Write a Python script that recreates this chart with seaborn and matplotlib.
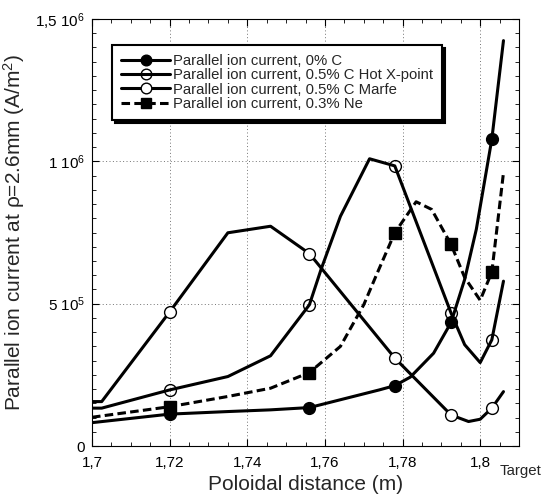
import numpy as np
import pandas as pd
import matplotlib
matplotlib.use("Agg")
import matplotlib.pyplot as plt
from matplotlib.ticker import MultipleLocator
import seaborn as sns

# ---------------- data ----------------
x_c0 = [1.700, 1.720, 1.735, 1.746, 1.756, 1.774, 1.778, 1.782, 1.788, 1.7925, 1.796, 1.799, 1.803, 1.806]
y_c0 = [82e3, 112e3, 121e3, 127e3, 135e3, 197e3, 212e3, 242e3, 326e3, 434e3, 585e3, 761e3, 1078e3, 1424e3]
mk_c0 = [1, 4, 6, 9, 12]

x_hot = [1.700, 1.7025, 1.720, 1.735, 1.746, 1.756, 1.759, 1.764, 1.7715, 1.778, 1.7925, 1.796, 1.800, 1.803, 1.806]
y_hot = [133e3, 133e3, 197e3, 244e3, 317e3, 496e3, 620e3, 807e3, 1009e3, 984e3, 467e3, 356e3, 293e3, 373e3, 579e3]
mk_hot = [2, 5, 9, 10, 13]

x_marfe = [1.700, 1.7025, 1.720, 1.735, 1.746, 1.756, 1.778, 1.7925, 1.797, 1.800, 1.803, 1.806]
y_marfe = [156e3, 156e3, 471e3, 749e3, 772e3, 676e3, 309e3, 109e3, 86e3, 94e3, 133e3, 191e3]
mk_marfe = [2, 5, 6, 7, 10]

x_ne = [1.700, 1.720, 1.735, 1.746, 1.756, 1.764, 1.770, 1.7735, 1.778, 1.7835, 1.7875, 1.7925, 1.796, 1.800, 1.803, 1.806]
y_ne = [101e3, 138e3, 174e3, 203e3, 258e3, 350e3, 496e3, 608e3, 749e3, 858e3, 831e3, 708e3, 592e3, 512e3, 611e3, 960e3]
mk_ne = [1, 4, 8, 11, 14]

labels = ["Parallel ion current, 0% C",
          "Parallel ion current, 0.5% C Hot X-point",
          "Parallel ion current, 0.5% C Marfe",
          "Parallel ion current, 0.3% Ne"]

xticks = [1.70, 1.72, 1.74, 1.76, 1.78, 1.80]
xtick_labels = ["1,7", "1,72", "1,74", "1,76", "1,78", "1,8"]
yticks = [0, 5e5, 1e6, 1.5e6]
ytick_labels = ["0", "5 10$^5$", "1 10$^6$", "1,5 10$^6$"]

# ---------------- style ----------------
sns.set_style("ticks")
plt.rcParams["font.family"] = ["Liberation Sans", "DejaVu Sans"]
plt.rcParams["mathtext.fontset"] = "custom"
plt.rcParams["mathtext.rm"] = "Liberation Sans"
plt.rcParams["mathtext.it"] = "Liberation Sans:italic"
plt.rcParams["mathtext.bf"] = "Liberation Sans:bold"

fig = plt.figure(figsize=(5.58, 4.96), dpi=100)
ax = fig.add_axes([92/558, 1-446/496, (519-92)/558, (446-19)/496])

series = [
    (x_c0, y_c0, mk_c0, dict(marker="o", markerfacecolor="black", markersize=8.5, linestyle="-")),
    (x_hot, y_hot, mk_hot, dict(marker="o", markerfacecolor="none", markersize=8.5, linestyle="-")),
    (x_marfe, y_marfe, mk_marfe, dict(marker="o", markerfacecolor="white", markersize=8.5, linestyle="-")),
    (x_ne, y_ne, mk_ne, dict(marker="s", markerfacecolor="black", markersize=8, linestyle=(0, (2.8, 1.4)))),
]

handles = []
for (xs, ys, mk, st), lab in zip(series, labels):
    df = pd.DataFrame({"x": xs, "y": ys})
    n_before = len(ax.lines)
    sns.lineplot(data=df, x="x", y="y", ax=ax, color="black", linewidth=2.2,
                 markevery=mk, markeredgecolor="black", markeredgewidth=1.0,
                 sort=False, estimator=None, legend=False, **st)
    line = ax.lines[n_before]
    handles.append(line)

ax.set_xlim(1.70, 1.81)
ax.set_ylim(0, 1.5e6)
ax.set_xticks(xticks, xtick_labels)
ax.set_yticks(yticks, ytick_labels)
ax.xaxis.set_minor_locator(MultipleLocator(0.005))
ax.yaxis.set_minor_locator(MultipleLocator(5e4))
ax.tick_params(which="both", direction="in", top=True, right=True, colors="black",
               labelsize=11)
ax.tick_params(which="major", length=5, width=0.8)
ax.tick_params(which="minor", length=3, width=0.6)
ax.tick_params(axis="x", pad=7)
ax.tick_params(axis="y", pad=5)
ax.grid(True, which="major", linestyle=(0, (1, 2.5)), color="0.45", linewidth=0.7)
for s in ax.spines.values():
    s.set_color("black")
    s.set_linewidth(0.8)

ax.set_xlabel("Poloidal distance (m)", fontsize=15, labelpad=4)
ax.set_ylabel("Parallel ion current at \u03c1=2.6mm (A/m$^2$)", fontsize=15, labelpad=6)
ax.text(521/558, 1-471/496, "Target", transform=fig.transFigure, fontsize=10.8,
        ha="center", va="center")

leg = ax.legend(handles, labels, loc="upper left", bbox_to_anchor=(0.047, 0.939),
                fontsize=10.7, handlelength=3.3, handletextpad=0.2, labelspacing=0.02,
                borderpad=0.6, borderaxespad=0, frameon=True, fancybox=False,
                framealpha=1, edgecolor="black", markerscale=0.9,
                shadow={"color": "black", "alpha": 1})
leg.get_frame().set_linewidth(1.5)

fig.savefig("out.png", dpi=100)
